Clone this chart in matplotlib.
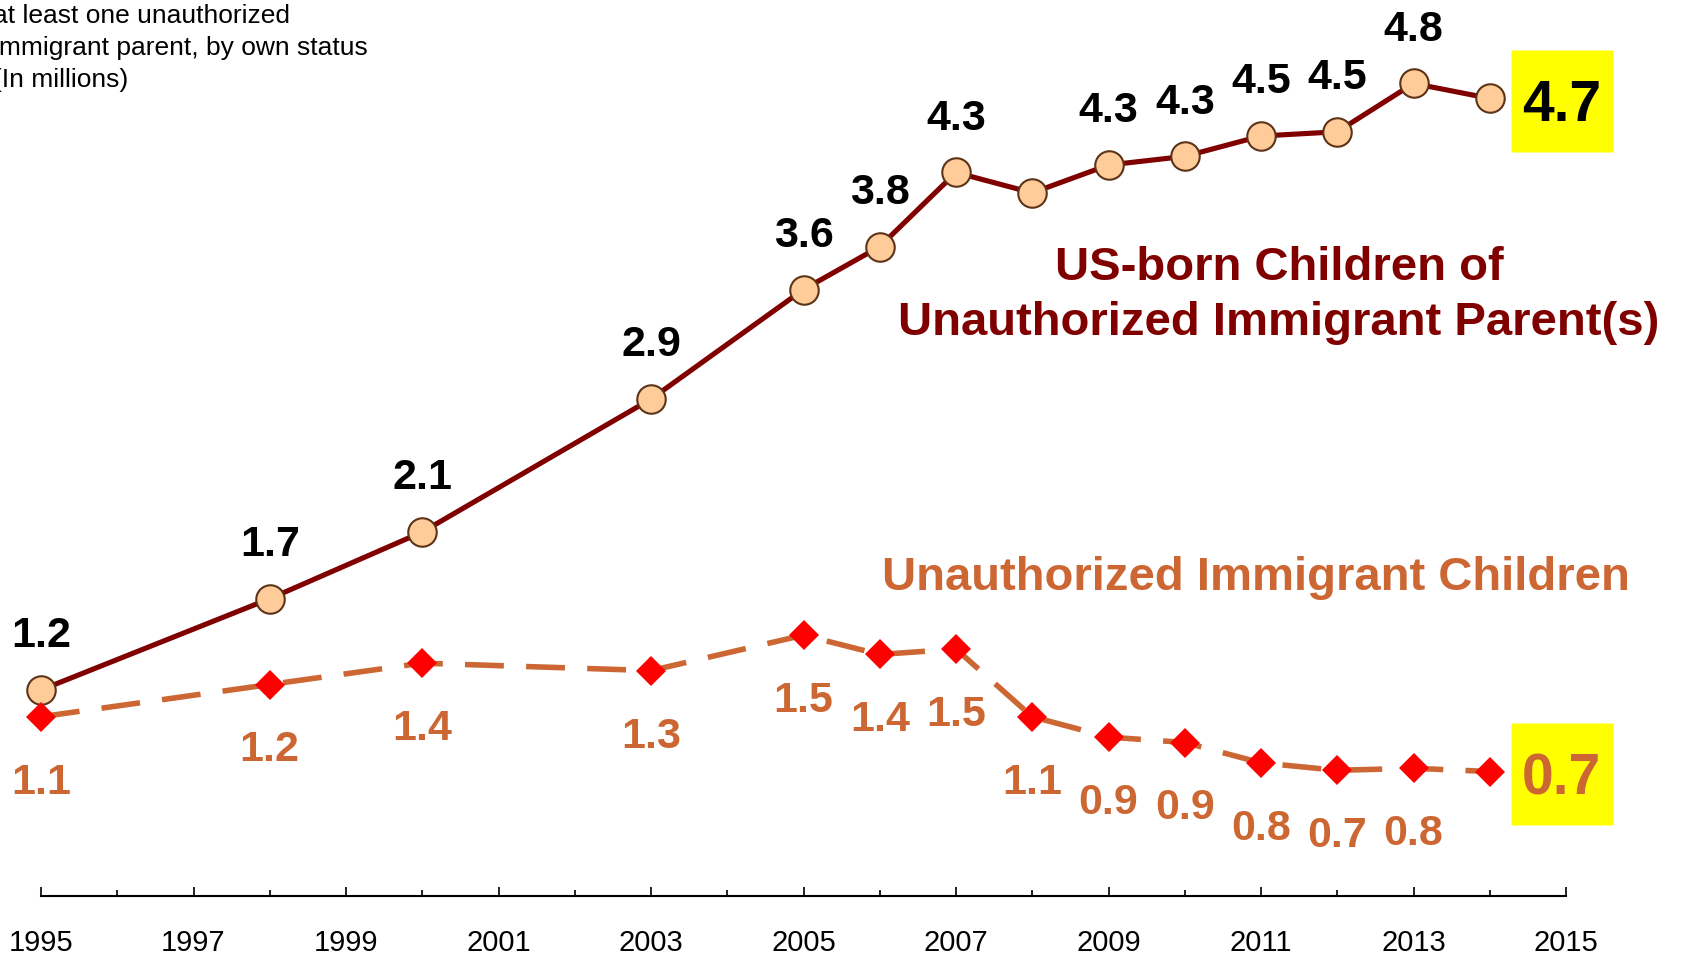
import matplotlib
matplotlib.use("Agg")
import matplotlib.pyplot as plt
from matplotlib.transforms import offset_copy

plt.rcParams["font.family"] = ["Liberation Sans", "DejaVu Sans"]

# data (millions)
years = [1995, 1998, 2000, 2003, 2005, 2006, 2007, 2008, 2009, 2010, 2011, 2012, 2013, 2014]
us_born = [1.215, 1.753, 2.146, 2.930, 3.576, 3.829, 4.266, 4.146, 4.310, 4.361, 4.481, 4.506, 4.791, 4.703]
unauth = [1.057, 1.247, 1.373, 1.329, 1.538, 1.424, 1.456, 1.057, 0.937, 0.905, 0.785, 0.741, 0.753, 0.734]
us_labels = ["1.2", "1.7", "2.1", "2.9", "3.6", "3.8", "4.3", "", "4.3", "4.3", "4.5", "4.5", "4.8", "4.7"]
un_labels = ["1.1", "1.2", "1.4", "1.3", "1.5", "1.4", "1.5", "1.1", "0.9", "0.9", "0.8", "0.7", "0.8", "0.7"]
tick_years = list(range(1995, 2016, 2))

C_US, C_UN = "#800000", "#CC6633"
W, H = 1683, 956

fig = plt.figure(figsize=(W / 100, H / 100), dpi=100)
ax = fig.add_axes([41 / W, 60 / H, 1525 / W, 896 / H])
ax.set_xlim(1995, 2015)
ax.set_ylim(0, 5.283)

ax.plot(years, us_born, color=C_US, lw=3.7, marker="o", ms=20.5, mfc="#FFCC99",
        mec="#5C3317", mew=1.5, clip_on=False, zorder=3)
ax.plot(years, unauth, color=C_UN, lw=4, dashes=(7.0, 4.0), marker="D", ms=15.5,
        mfc="#FF0000", mec="#FF0000", mew=0, clip_on=False, zorder=4)

# point labels (last one goes in the yellow box)
for x, y, s in zip(years[:-1], us_born[:-1], us_labels[:-1]):
    if s:
        ax.annotate(s, (x, y), xytext=(0, 41.8 - 0.358 * 31), textcoords="offset points",
                    ha="center", va="baseline", fontsize=31, fontweight="bold", color="black")
for x, y, s in zip(years[:-1], unauth[:-1], un_labels[:-1]):
    ax.annotate(s, (x, y), xytext=(0, -44.3 - 0.358 * 31), textcoords="offset points",
                ha="center", va="baseline", fontsize=31, fontweight="bold", color=C_UN)

# highlighted latest values
box_tr = offset_copy(ax.transData, fig=fig, x=51.8, y=-1.7, units="points")
for y, s, c in [(us_born[-1], us_labels[-1], "black"), (unauth[-1], un_labels[-1], C_UN)]:
    ax.plot([years[-1]], [y], marker="s", ms=73.4, mfc="#FFFF00", mec="none",
            transform=box_tr, clip_on=False, zorder=2)
    ax.annotate(s, (years[-1], y), xytext=(51.8, -1.7 - 0.358 * 41), textcoords="offset points",
                ha="center", va="baseline", fontsize=41, fontweight="bold", color=c, zorder=5)

# series names
fig.text(1279 / W, 1 - 280 / H, "US-born Children of", ha="center", va="baseline",
         fontsize=34, fontweight="bold", color=C_US)
fig.text(1279 / W, 1 - 335 / H, "Unauthorized Immigrant Parent(s)", ha="center", va="baseline",
         fontsize=34, fontweight="bold", color=C_US)
fig.text(1256 / W, 1 - 590 / H, "Unauthorized Immigrant Children", ha="center", va="baseline",
         fontsize=34, fontweight="bold", color=C_UN)

# note in the top-left corner (cut off in the source)
for i, line in enumerate(["at least one unauthorized", "immigrant parent, by own status",
                          "(In millions)"]):
    fig.text(-7 / W, 1 - (23 + 32 * i) / H, line, ha="left", va="baseline",
             fontsize=19, color="black")

# axis
for side in ["left", "top", "right"]:
    ax.spines[side].set_visible(False)
ax.spines["bottom"].set_linewidth(1.5)
ax.set_yticks([])
ax.set_xticks(tick_years)
ax.set_xticks(range(1995, 2016), minor=True)
ax.set_xticklabels([str(t) for t in tick_years])
ax.tick_params(axis="x", which="major", direction="in", length=6.5, width=1.2,
               labelsize=21, pad=24)
ax.tick_params(axis="x", which="minor", direction="in", length=4.5, width=1.2)
ax.set_facecolor("none")

fig.savefig("out.png", dpi=100)
